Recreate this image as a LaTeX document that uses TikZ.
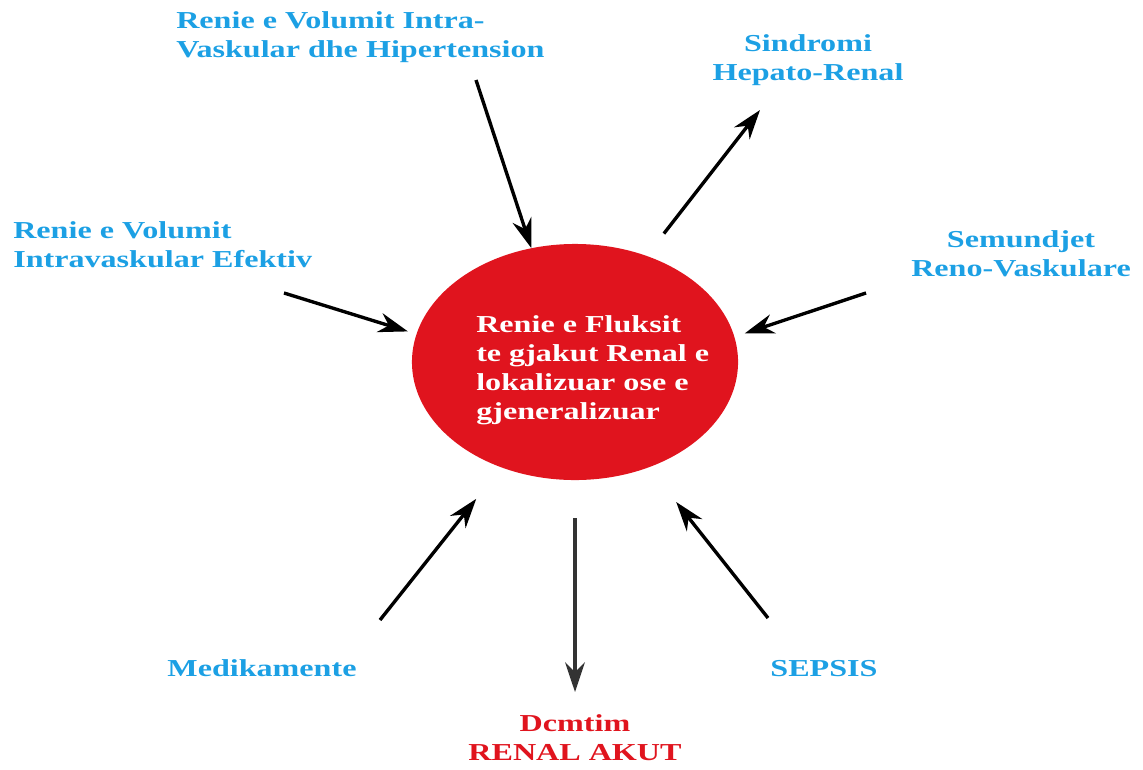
\documentclass[tikz,border=0pt]{standalone}
\usepackage{fontspec}
\setmainfont{Liberation Serif}
\newfontfamily\lblfont[FakeStretch=1.32]{Liberation Serif}
\usetikzlibrary{shapes.geometric,arrows.meta}
\definecolor{lblblue}{RGB}{28,160,228}
\definecolor{bloodred}{RGB}{224,20,30}

\begin{document}
\begin{tikzpicture}[x=0.025cm, y=-0.025cm,
  lbl/.style={font=\lblfont\bfseries\fontsize{17.3}{20.6}\selectfont, text=lblblue, inner sep=0pt},
  flow/.style={black, line width=2.4pt, -{Stealth[length=21pt,width=14pt]}}]

  \useasboundingbox (0,0) rectangle (1143,769);

% CENTRE
  \node[ellipse, fill=bloodred, minimum width=8.15cm, minimum height=5.9cm, inner sep=0pt] (renie) at (575,362) {};
  \node[lbl, text=white, align=left, anchor=north west] (fluksi) at (476,315)
    {Renie e Fluksit\\te gjakut Renal e\\lokalizuar ose e\\gjeneralizuar};

% CAUSES
  \node[lbl, align=left, anchor=north west] (hyp) at (176,11) {Renie e Volumit Intra-\\Vaskular dhe Hipertension};
  \node[lbl, align=left, anchor=north west] (ef) at (13,221) {Renie e Volumit\\Intravaskular Efektiv};
  \node[lbl, align=center, anchor=north] (reno) at (1021,230) {Semundjet\\Reno-Vaskulare};
  \node[lbl, anchor=base] (med) at (262,676) {Medikamente};
  \node[lbl, anchor=base] (sep) at (824,676) {SEPSIS};

% OUTCOMES
  \node[lbl, align=center, anchor=north] (hep) at (808,34) {Sindromi\\Hepato-Renal};
  \node[lbl, text=bloodred, align=center, anchor=north] (akut) at (575,714) {Dcmtim\\RENAL AKUT};

% ARROWS
  \coordinate (hypTail) at (476,80);
  \draw[flow] (hypTail) -- (renie.111.5);

  \coordinate (efTail) at (284,293);
  \draw[flow, shorten >=0.22cm] (efTail) -- (renie.170);

  \coordinate (renoTail) at (866,293);
  \draw[flow, shorten >=0.27cm] (renoTail) -- (renie.9.7);

  \coordinate (medTail) at (380,620);
  \draw[flow, shorten >=1cm] (medTail) -- (renie.235.5);

  \coordinate (sepTail) at (768,618);
  \draw[flow, shorten >=1.1cm] (sepTail) -- (renie.305.4);

  \coordinate (hepHead) at (760,110);
  \draw[flow, shorten <=0.7cm] (renie.56.8) -- (hepHead);

  \coordinate (akutHead) at (575,692);
  \draw[flow, black!80, shorten <=0.95cm] (renie.south) -- (akutHead);
\end{tikzpicture}
\end{document}
